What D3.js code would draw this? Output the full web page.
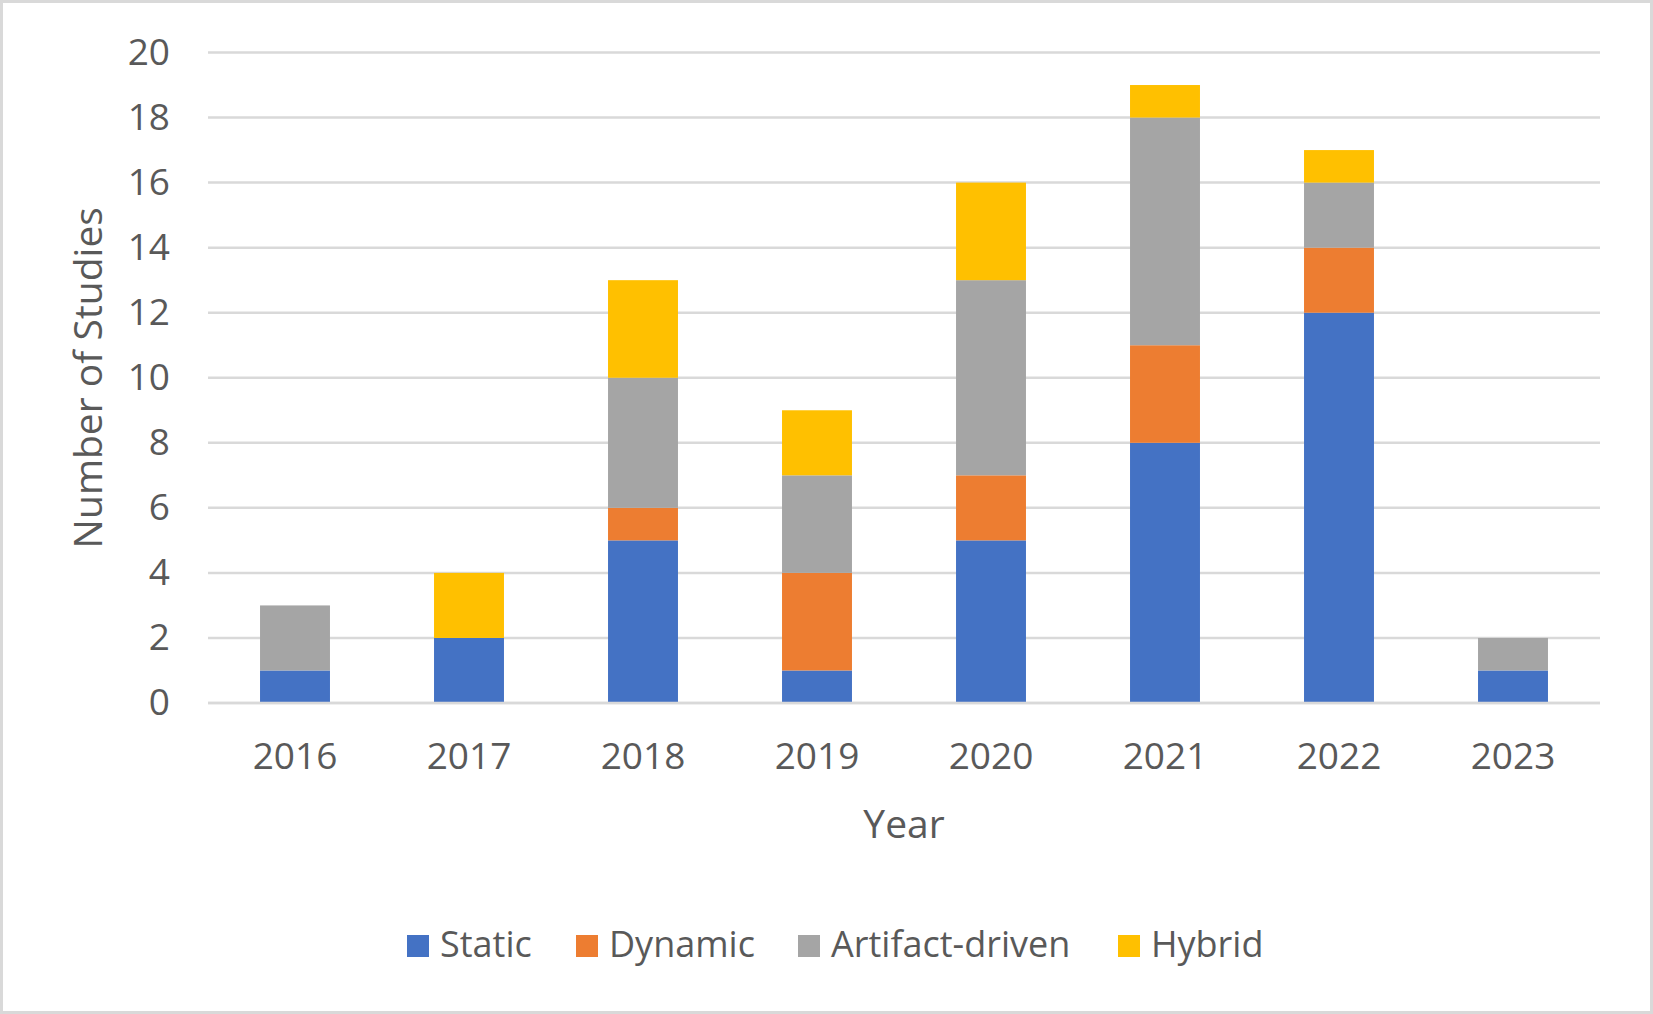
<!DOCTYPE html>
<html>
<head>
<meta charset="utf-8">
<script src="https://cdn.jsdelivr.net/npm/d3@7"></script>
<style>
  html, body { margin: 0; padding: 0; background: #ffffff; }
  svg { display: block; }
  text { font-family: "Open Sans", "Noto Sans", sans-serif; fill: #595959; }
</style>
</head>
<body>
<svg id="chart" width="1653" height="1014"></svg>
<script>
const years = ["2016", "2017", "2018", "2019", "2020", "2021", "2022", "2023"];
const seriesNames = ["Static", "Dynamic", "Artifact-driven", "Hybrid"];
const staticVals   = [1, 2, 5, 1, 5, 8, 12, 1];
const dynamicVals  = [0, 0, 1, 3, 2, 3, 2, 0];
const artifactVals = [2, 0, 4, 3, 6, 7, 2, 1];
const hybridVals   = [0, 2, 3, 2, 3, 1, 1, 0];
const yTicks = [0, 2, 4, 6, 8, 10, 12, 14, 16, 18, 20];
const colors = ["#4472C4", "#ED7D31", "#A5A5A5", "#FFC000"];

const seriesValues = [staticVals, dynamicVals, artifactVals, hybridVals];
const rows = years.map((y, i) => {
  const r = { year: y };
  seriesNames.forEach((s, k) => { r[s] = seriesValues[k][i]; });
  return r;
});

const svg = d3.select("#chart");
const W = 1653, H = 1014;

// outer border
svg.append("rect")
  .attr("x", 1.5).attr("y", 1.5)
  .attr("width", W - 3).attr("height", H - 3)
  .attr("fill", "#ffffff")
  .attr("stroke", "#D9D9D9").attr("stroke-width", 3);

const plot = { left: 208, right: 1600, top: 52.5, bottom: 703 };

const x = d3.scaleBand()
  .domain(years)
  .range([plot.left, plot.right])
  .paddingInner(0.598)
  .paddingOuter(0.299);

const y = d3.scaleLinear()
  .domain([0, 20])
  .range([plot.bottom, plot.top]);

// gridlines
svg.append("g")
  .selectAll("line")
  .data(yTicks)
  .join("line")
  .attr("x1", plot.left).attr("x2", plot.right)
  .attr("y1", d => y(d)).attr("y2", d => y(d))
  .attr("stroke", "#D9D9D9").attr("stroke-width", 2.5);

// y axis tick labels
const yAxis = d3.axisLeft(y).tickValues(yTicks).tickSize(0).tickPadding(0);
const gy = svg.append("g")
  .attr("transform", `translate(170,0)`)
  .call(yAxis);
gy.select(".domain").remove();
gy.selectAll("text")
  .attr("font-size", 37)
  .attr("fill", "#595959")
  .attr("font-family", "'Open Sans', sans-serif");

// stacked bars
const stack = d3.stack().keys(seriesNames);
const stacked = stack(rows);

svg.append("g")
  .selectAll("g")
  .data(stacked)
  .join("g")
  .attr("fill", (d, i) => colors[i])
  .selectAll("rect")
  .data(d => d)
  .join("rect")
  .attr("x", d => x(d.data.year))
  .attr("width", x.bandwidth())
  .attr("y", d => y(d[1]))
  .attr("height", d => y(d[0]) - y(d[1]));

// zero line on top
svg.append("line")
  .attr("x1", plot.left).attr("x2", plot.right)
  .attr("y1", y(0)).attr("y2", y(0))
  .attr("stroke", "#D9D9D9").attr("stroke-width", 2.5);

// x axis labels
const xAxis = d3.axisBottom(x).tickSize(0).tickPadding(0);
const gx = svg.append("g")
  .attr("transform", `translate(0,${plot.bottom})`)
  .call(xAxis);
gx.select(".domain").remove();
gx.selectAll("text")
  .attr("font-size", 37)
  .attr("fill", "#595959")
  .attr("font-family", "'Open Sans', sans-serif")
  .attr("dy", null)
  .attr("y", 66);

// axis titles
svg.append("text")
  .attr("x", (plot.left + plot.right) / 2)
  .attr("y", 838)
  .attr("text-anchor", "middle")
  .attr("font-size", 39)
  .text("Year");

svg.append("text")
  .attr("transform", `translate(102,${(plot.top + plot.bottom) / 2}) rotate(-90)`)
  .attr("text-anchor", "middle")
  .attr("font-size", 39)
  .text("Number of Studies");

// legend
const legendX = [407, 576, 798, 1118];
const legend = svg.append("g")
  .selectAll("g")
  .data(seriesNames)
  .join("g")
  .attr("transform", (d, i) => `translate(${legendX[i]},935)`);
legend.append("rect")
  .attr("width", 22).attr("height", 22)
  .attr("fill", (d, i) => colors[i]);
legend.append("text")
  .attr("x", 33).attr("y", 22)
  .attr("font-size", 36)
  .text(d => d);
</script>
</body>
</html>
